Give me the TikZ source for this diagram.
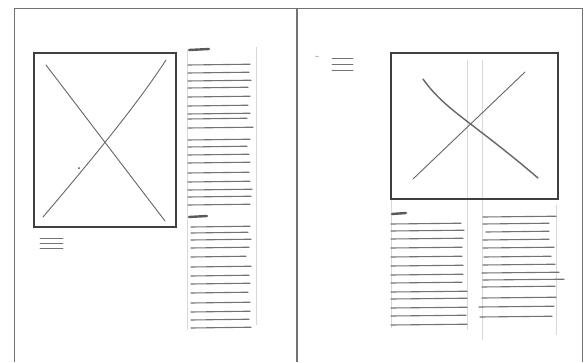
\documentclass[tikz,border=0pt]{standalone}
\begin{document}
\begin{tikzpicture}[x=1pt,y=-1pt,
  frame/.style={draw=black!55,line width=0.9pt},
  imgbox/.style={draw=black!75,line width=1.1pt},
  cross/.style={draw=black!60,line width=0.9pt,line cap=round},
  txt/.style={draw=black!55,line width=1.1pt,line cap=round},
  guide/.style={draw=black!15,line width=0.5pt},
  head/.style={draw=black!65,line width=2.4pt,line cap=round}]
\useasboundingbox (0,0) rectangle (586,362);
\fill[white] (0,0) rectangle (586,362);
% page frames
\draw[frame] (14,362) -- (14,8) -- (582,8) -- (582,362);
\draw[frame,line width=1.1pt] (297,8) -- (297,362);
% ---------- left page ----------
\draw[imgbox] (34,53) rectangle (176,227);
\draw[imgbox,line width=1.8pt] (176,53) -- (176,227) -- (33,227);
\draw[cross] (46,65) -- (165,221);
\draw[cross] (43,217) .. controls (100,150) and (140,100) .. (166,60);
\fill[black!70] (79,168) circle (1pt);
% caption
\foreach \y in {238,243,248} \draw[txt,line width=0.8pt] (40,\y) -- (63,\y);
% text column
\draw[guide] (256,47) -- (256,325);
\draw[guide] (187,50) -- (187,330);
\draw[head] (189,50) -- (209,49);
\foreach \y/\l in {65/250,73/249,81/251,88/248,97/250,106/248,114/250,119/247,128/253,140/250,147/247,155/249,163/250,173/249,182/250,190/252,197/251,205/250}
  \draw[txt] (188,\y) -- (\l,\y-0.8);
\draw[head] (189,217) -- (207,216);
\foreach \y/\l in {227/250,233/248,240/251,248/249,257/246,267/251,276/249,284/250,293/248,303/250,312/250,320/249,328/251}
  \draw[txt] (191,\y) -- (\l,\y-0.8);
% ---------- right page ----------
\draw[black!40,line width=0.6pt] (315,56) -- (319,57);
\foreach \y in {58,64,70} \draw[txt,line width=0.8pt] (332,\y) -- (353,\y);
\draw[guide] (467,60) -- (467,330);
\draw[guide] (482,60) -- (482,340);
\draw[guide] (556,205) -- (556,335);
\draw[guide] (391,200) -- (391,328);
\draw[imgbox] (391,53) rectangle (558,199);
\draw[cross,line width=1.4pt] (423,79) .. controls (445,110) and (470,120) .. (538,178);
\draw[cross] (413,179) -- (525,72);
\draw[head] (392,214) -- (406,213);
\foreach \y/\l in {224/461,231/464,239/463,248/462,257/462,266/463,275/463,283/462,292/467,299/467,308/467,316/466,325/467}
  \draw[txt] (391,\y) -- (\l,\y-0.8);
\foreach \y/\s/\l in {217/483/556,224/483/549,232/486/549,240/483/549,248/483/554,257/484/551,265/483/555,273/482/559,280/483/564,287/482/555,298/482/556,307/479/554,317/480/552}
  \draw[txt] (\s,\y) -- (\l,\y-0.8);
\end{tikzpicture}
\end{document}
